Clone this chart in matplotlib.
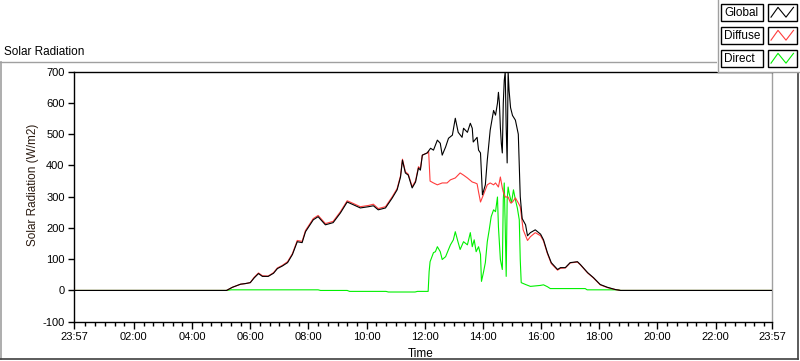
import matplotlib
matplotlib.use("Agg")
import matplotlib.pyplot as plt
from matplotlib.lines import Line2D
from matplotlib.patches import Rectangle

plt.rcParams['font.family'] = ['Liberation Sans', 'DejaVu Sans']

# ---------------- data ----------------
title = "Solar Radiation"
y_label = "Solar Radiation (W/m2)"
x_label = "Time"
series_names = ["Global", "Diffuse", "Direct"]
series_colors = ["#000000", "#ff3c3c", "#00f000"]
x_tick_labels = ["23:57", "02:00", "04:00", "06:00", "08:00", "10:00", "12:00",
                 "14:00", "16:00", "18:00", "20:00", "22:00", "23:57"]
y_ticks = [-100, 0, 100, 200, 300, 400, 500, 600, 700]

# times in minutes since midnight, values in W/m2
global_t = [-3, 311, 323, 340, 350, 360, 368, 377, 385, 397,
            408, 416, 426, 437, 447, 457, 467, 474, 490, 500,
            515, 531, 546, 560, 573, 587, 604, 614, 624, 639,
            653, 663, 670, 674, 680, 686, 694, 701, 707, 711,
            715, 725, 732, 738, 746, 752, 756, 763, 769, 777,
            783, 789, 797, 800, 808, 814, 818, 820, 828, 831,
            835, 839, 845, 849, 855, 862, 866, 870, 872, 874,
            876, 878, 880, 882, 884, 886, 888, 890, 892, 894,
            897, 901, 907, 911, 913, 915, 917, 921, 928, 932,
            938, 948, 959, 965, 973, 981, 994, 1000, 1010, 1020,
            1035, 1041, 1056, 1068, 1082, 1097, 1113, 1124, 1437]
global_v = [0, 0, 10, 20, 22, 25, 40, 54, 45, 45,
            55, 70, 78, 89, 115, 156, 153, 188, 226, 236,
            210, 217, 248, 283, 274, 264, 268, 271, 258, 264,
            296, 322, 363, 417, 376, 369, 328, 347, 392, 385,
            433, 440, 455, 449, 481, 471, 433, 459, 487, 497,
            551, 506, 490, 519, 506, 535, 519, 475, 490, 449,
            440, 306, 338, 417, 513, 576, 561, 599, 634, 600,
            522, 470, 440, 599, 672, 700, 522, 408, 700, 640,
            585, 560, 545, 515, 500, 400, 300, 230, 210, 175,
            185, 194, 180, 162, 121, 89, 67, 73, 73, 89,
            92, 83, 57, 41, 19, 10, 3, 0, 0]

diffuse_t = [-3, 311, 323, 340, 350, 360, 368, 377, 385, 397,
             408, 416, 426, 437, 447, 457, 467, 474, 490, 500,
             515, 531, 546, 560, 573, 587, 604, 614, 624, 639,
             653, 663, 670, 674, 680, 686, 694, 701, 707, 711,
             715, 725, 728, 731, 738, 746, 756, 766, 773, 783,
             793, 800, 808, 818, 824, 828, 831, 835, 841, 849,
             855, 862, 866, 872, 876, 880, 882, 886, 892, 897,
             901, 907, 913, 917, 923, 932, 938, 948, 959, 965,
             973, 981, 994, 1000, 1010, 1020, 1035, 1041, 1056, 1068,
             1082, 1097, 1113, 1124, 1437]
diffuse_v = [0, 0, 10, 20, 22, 25, 42, 56, 47, 46,
             57, 72, 80, 92, 118, 160, 157, 192, 230, 240,
             214, 221, 252, 287, 278, 268, 272, 276, 262, 268,
             300, 326, 367, 420, 380, 372, 332, 351, 396, 390,
             433, 440, 445, 350, 344, 338, 344, 344, 354, 360,
             376, 369, 360, 347, 344, 341, 315, 283, 306, 338,
             344, 338, 344, 331, 363, 328, 315, 299, 299, 280,
             283, 296, 280, 268, 194, 160, 172, 185, 175, 158,
             118, 86, 65, 71, 72, 88, 91, 82, 56, 40,
             18, 9, 3, 0, 0]

direct_t = [-3, 311, 320, 500, 505, 560, 565, 640, 645, 700,
            705, 727, 729, 731, 738, 742, 746, 752, 756, 763,
            769, 773, 779, 783, 789, 793, 800, 808, 814, 818,
            822, 826, 831, 835, 837, 841, 845, 849, 853, 857,
            862, 866, 870, 872, 876, 880, 882, 884, 886, 888,
            890, 892, 894, 899, 903, 907, 911, 915, 917, 919,
            928, 938, 958, 965, 973, 979, 1051, 1055, 1119, 1124,
            1437]
direct_v = [0, 0, 2, 2, 0, 0, -3, -3, -5, -5,
            -3, -3, 60, 92, 121, 124, 140, 124, 99, 108,
            131, 146, 162, 188, 153, 131, 156, 146, 185, 140,
            162, 124, 140, 115, 29, 57, 89, 156, 194, 236,
            258, 252, 299, 204, 99, 67, 290, 344, 204, 45,
            290, 331, 312, 280, 322, 290, 264, 226, 99, 25,
            19, 13, 16, 18, 12, 6, 6, 2, 2, 0,
            0]

# ---------------- layout helpers ----------------
W, H = 800, 361


def fx(x):
    return x / W


def fy(y):
    return 1 - y / H


def label_to_min(lbl, i):
    h, m = map(int, lbl.split(':'))
    v = h * 60 + m
    if i == 0 and v > 720:
        v -= 1440
    return v


x_major = [label_to_min(l, i) for i, l in enumerate(x_tick_labels)]
x_minor = [t for t in range(20, 1440, 20) if t % 120 != 0 and t < x_major[-1]]

fig = plt.figure(figsize=(W / 100, H / 100), dpi=100)
fig.patch.set_facecolor('white')

ax_l, ax_r, ax_t, ax_b = 74.3, 772.3, 71.7, 321.7
ax = fig.add_axes([fx(ax_l), fy(ax_b), (ax_r - ax_l) / W, (ax_b - ax_t) / H])

lw = 0.8
ax.plot(direct_t, direct_v, color=series_colors[2], lw=lw, zorder=2)
ax.plot(diffuse_t, diffuse_v, color=series_colors[1], lw=lw, zorder=3)
ax.plot(global_t, global_v, color=series_colors[0], lw=lw, zorder=4)

ax.set_xlim(x_major[0], x_major[-1])
ax.set_ylim(y_ticks[0], y_ticks[-1])
ax.set_xticks(x_major)
ax.set_xticklabels(x_tick_labels)
ax.set_xticks(x_minor, minor=True)
ax.set_yticks(y_ticks)
ax.set_yticklabels([str(v) for v in y_ticks])

for s in ['left', 'bottom', 'top']:
    ax.spines[s].set_color('black')
    ax.spines[s].set_linewidth(1.0)
ax.spines['right'].set_color('#a0a0a0')
ax.spines['right'].set_linewidth(1.0)

ax.tick_params(axis='x', which='major', length=5, width=1, direction='out',
               pad=2.5, labelsize=8, colors='black')
ax.tick_params(axis='x', which='minor', length=3, width=1, direction='out')
ax.tick_params(axis='y', which='major', length=4, width=1, direction='out',
               pad=3, labelsize=8, colors='black')

# titles / labels
fig.text(fx(4), fy(55), title, fontsize=8.5, ha='left', va='baseline', color='black')
fig.text(fx(33), fy(185), y_label, fontsize=8.5, rotation=90, ha='center', va='center',
         color='#2a1a10')
fig.text(fx(421), fy(354), x_label, fontsize=8.5, ha='center', va='center', color='black')

# outer frame
frame_gray = '#a0a0a0'
frame_dark = '#404040'
fig.add_artist(Line2D([fx(0), fx(717)], [fy(61.5), fy(61.5)], color=frame_gray, lw=1.0))
fig.add_artist(Line2D([fx(0.7), fx(0.7)], [fy(61.5), fy(358.5)], color=frame_gray, lw=1.2))
fig.add_artist(Line2D([fx(0), fx(797.5)], [fy(358.5), fy(358.5)], color=frame_dark, lw=1.2))
fig.add_artist(Line2D([fx(797.5), fx(797.5)], [fy(72), fy(358.5)], color=frame_dark, lw=1.2))

# legend panel
fig.add_artist(Rectangle((fx(717), fy(72)), 83 / W, 72 / H, transform=fig.transFigure,
                         facecolor='white', edgecolor='none', zorder=5))
fig.add_artist(Line2D([fx(717.5), fx(717.5)], [fy(0), fy(72)], color=frame_gray, lw=1.0, zorder=6))
fig.add_artist(Line2D([fx(717.5), fx(800)], [fy(72), fy(72)], color=frame_gray, lw=1.0, zorder=6))

row_h = 17.5
for i, (name, col) in enumerate(zip(series_names, series_colors)):
    top = 3.5 + 23 * i
    fig.add_artist(Rectangle((fx(721), fy(top + row_h)), 42 / W, row_h / H,
                             transform=fig.transFigure, facecolor='white',
                             edgecolor='black', lw=1.0, zorder=7))
    fig.text(fx(724), fy(top + row_h / 2 + 0.5), name, fontsize=8.5, ha='left',
             va='center', color='black', zorder=8)
    fig.add_artist(Rectangle((fx(768), fy(top + row_h)), 29 / W, row_h / H,
                             transform=fig.transFigure, facecolor='white',
                             edgecolor='black', lw=1.0, zorder=7))
    zx = [771, 778, 786, 793.5]
    zy = [top + row_h * 0.78, top + row_h * 0.22, top + row_h * 0.78, top + row_h * 0.22]
    fig.add_artist(Line2D([fx(x) for x in zx], [fy(y) for y in zy], color=col,
                          lw=0.8, zorder=8))

fig.savefig("out.png", dpi=100)
